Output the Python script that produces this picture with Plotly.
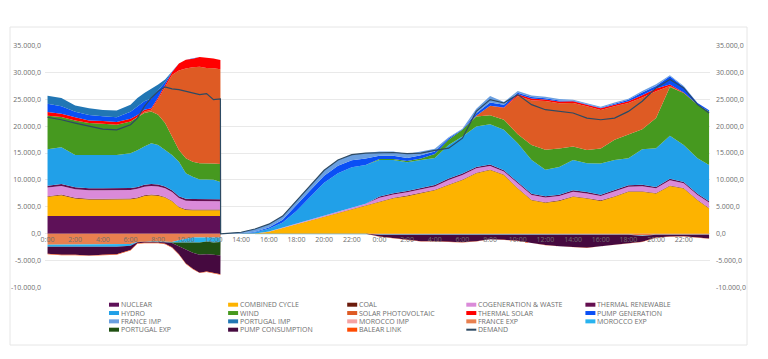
import plotly.graph_objects as go

# ---------------- time axis (day 1 morning, gap ramp, day 2) ----------------
DAY1_TIMES = ["2024-03-10 00:00", "2024-03-10 01:00", "2024-03-10 02:00", "2024-03-10 03:00",
              "2024-03-10 04:00", "2024-03-10 05:00", "2024-03-10 06:00", "2024-03-10 06:30",
              "2024-03-10 07:00", "2024-03-10 07:30", "2024-03-10 08:00", "2024-03-10 08:30",
              "2024-03-10 09:00", "2024-03-10 09:30", "2024-03-10 10:00", "2024-03-10 10:30",
              "2024-03-10 11:00", "2024-03-10 11:30", "2024-03-10 12:00", "2024-03-10 12:30"]
GAP_TIMES = ["2024-03-10 12:31", "2024-03-10 13:00", "2024-03-10 14:00", "2024-03-10 15:00",
             "2024-03-10 16:00", "2024-03-10 17:00", "2024-03-10 18:00", "2024-03-10 19:00",
             "2024-03-10 20:00", "2024-03-10 21:00", "2024-03-10 22:00", "2024-03-10 23:00"]
DAY2_TIMES = ["2024-03-11 00:00", "2024-03-11 01:00", "2024-03-11 02:00", "2024-03-11 03:00",
              "2024-03-11 04:00", "2024-03-11 05:00", "2024-03-11 06:00", "2024-03-11 07:00",
              "2024-03-11 08:00", "2024-03-11 09:00", "2024-03-11 10:00", "2024-03-11 11:00",
              "2024-03-11 12:00", "2024-03-11 13:00", "2024-03-11 14:00", "2024-03-11 15:00",
              "2024-03-11 16:00", "2024-03-11 17:00", "2024-03-11 18:00", "2024-03-11 19:00",
              "2024-03-11 20:00", "2024-03-11 21:00", "2024-03-11 22:00", "2024-03-11 23:00",
              "2024-03-11 23:50"]
TIME = DAY1_TIMES + GAP_TIMES + DAY2_TIMES

# ---------------- generation (MW), positive stack ----------------
NUCLEAR = ([3330, 3330, 3330, 3330, 3330, 3330, 3330, 3330, 3330, 3330, 3330, 3330, 3330, 3330, 3330, 3330, 3330, 3330, 3330, 3330]
           + [0, 0, 0, 0, 0, 0, 0, 0, 0, 0, 0, 0]
           + [0, 0, 0, 0, 0, 0, 0, 0, 0, 0, 0, 0, 0, 0, 0, 0, 0, 0, 0, 0, 0, 0, 0, 0, 0])
COMBINED_CYCLE = ([3550, 3850, 3250, 3050, 3050, 3050, 3100, 3300, 3700, 3850, 3750, 3400, 2700, 1600, 1100, 1050, 1050, 1050, 1050, 1050]
                  + [0, 0, 0, 50, 400, 1100, 1800, 2500, 3200, 3900, 4600, 5300]
                  + [6000, 6600, 7000, 7500, 8100, 9050, 9980, 11230, 11850, 10900, 8430, 6250, 5750, 6120, 6870, 6560, 6120, 6870, 7800, 7800, 7500, 8860, 8430, 6250, 4700])
COAL = ([120, 120, 120, 120, 120, 120, 120, 120, 120, 120, 120, 120, 120, 120, 120, 120, 120, 120, 120, 120]
        + [0, 0, 0, 0, 0, 0, 0, 0, 0, 0, 0, 0]
        + [100, 100, 100, 100, 100, 100, 100, 100, 100, 100, 100, 100, 100, 100, 100, 100, 100, 100, 100, 100, 100, 100, 100, 100, 100])
COGENERATION = ([1600, 1600, 1600, 1600, 1600, 1600, 1600, 1600, 1600, 1600, 1600, 1600, 1600, 1600, 1600, 1600, 1600, 1600, 1550, 1550]
                + [0, 0, 0, 0, 50, 100, 150, 200, 200, 250, 250, 300]
                + [600, 600, 600, 600, 600, 850, 850, 850, 650, 550, 850, 850, 900, 800, 850, 850, 800, 850, 850, 950, 850, 1000, 850, 850, 1000])
THERMAL_RENEWABLE = ([350, 350, 350, 350, 350, 350, 350, 350, 350, 350, 350, 350, 350, 350, 350, 350, 350, 350, 350, 350]
                     + [0, 0, 0, 0, 0, 0, 0, 0, 0, 0, 0, 0]
                     + [250, 250, 250, 250, 250, 250, 250, 250, 250, 250, 250, 250, 250, 250, 250, 250, 250, 250, 250, 250, 250, 250, 250, 250, 250])
HYDRO = ([6760, 6830, 6000, 6200, 6200, 6200, 6460, 6800, 7100, 7580, 7360, 6780, 6550, 6400, 4730, 4150, 3660, 3660, 3660, 3220]
         + [0, 20, 80, 250, 500, 900, 2300, 4200, 6100, 7100, 7500, 7200]
         + [6750, 6150, 5350, 5250, 5050, 6250, 6880, 7500, 7510, 7520, 7200, 6260, 4900, 5150, 5640, 5340, 5780, 5640, 5030, 6580, 7200, 8000, 6880, 6580, 6730])
WIND = ([6220, 5600, 6400, 5910, 5780, 5600, 5910, 6180, 6230, 5900, 5600, 4980, 3410, 2180, 2800, 2800, 2990, 2990, 2990, 3330]
        + [0, 0, 0, 0, 0, 0, 0, 0, 0, 0, 0, 0]
        + [200, 200, 200, 300, 700, 950, 1250, 1870, 1640, 1870, 1670, 2800, 3730, 3430, 2490, 2480, 2800, 3740, 4350, 3730, 5590, 9030, 9640, 9950, 9950])
SOLAR_PV = ([0, 0, 0, 0, 0, 0, 0, 0, 300, 300, 2890, 6740, 11440, 14720, 16670, 17500, 17900, 17700, 17700, 17600]
            + [0, 0, 0, 0, 0, 0, 0, 0, 0, 0, 0, 0]
            + [0, 0, 0, 0, 0, 0, 0, 100, 1780, 2170, 7100, 8290, 9020, 8400, 8090, 8080, 7140, 6210, 5910, 5910, 4970, 200, 0, 0, 0])
THERMAL_SOLAR = ([700, 600, 600, 500, 500, 500, 500, 400, 300, 300, 300, 300, 500, 1300, 1600, 1600, 1800, 1900, 1800, 1700]
                 + [0, 0, 0, 0, 0, 0, 0, 0, 0, 0, 0, 0]
                 + [0, 0, 0, 0, 0, 0, 0, 0, 0, 100, 300, 300, 300, 300, 300, 300, 300, 300, 300, 400, 500, 300, 100, 0, 0])
PUMP_GENERATION = ([1500, 1400, 1000, 1000, 900, 900, 1300, 1600, 1600, 1800, 1300, 600, 100, 0, 0, 0, 0, 0, 0, 0]
                   + [0, 0, 20, 100, 250, 500, 1000, 1200, 1300, 1400, 1300, 1200]
                   + [600, 600, 600, 600, 500, 300, 100, 500, 600, 500, 300, 300, 200, 200, 100, 100, 100, 200, 300, 500, 500, 1500, 1000, 300, 200])
FRANCE_IMP = ([0, 0, 0, 0, 0, 0, 0, 0, 0, 0, 0, 0, 0, 0, 0, 0, 0, 0, 0, 0]
              + [0, 80, 200, 500, 600, 700, 950, 900, 1000, 1050, 1050, 1000]
              + [800, 800, 700, 700, 500, 200, 100, 800, 1200, 500, 300, 300, 300, 300, 200, 200, 200, 200, 200, 300, 300, 200, 200, 0, 0])
PORTUGAL_IMP = ([1520, 1520, 1150, 1240, 1170, 1250, 1310, 1540, 1520, 1770, 1100, 440, 100, 0, 0, 0, 0, 0, 0, 0]
                + [0, 0, 0, 0, 0, 0, 0, 0, 0, 0, 0, 0]
                + [0, 0, 0, 0, 0, 0, 0, 0, 0, 0, 0, 0, 0, 0, 0, 0, 0, 0, 0, 0, 0, 0, 0, 0, 0])
MOROCCO_IMP = ([0, 0, 0, 0, 0, 0, 0, 0, 0, 0, 0, 0, 0, 0, 0, 0, 0, 0, 0, 0]
               + [0, 0, 0, 0, 0, 0, 0, 0, 0, 0, 0, 0]
               + [0, 0, 0, 0, 0, 0, 0, 0, 0, 0, 0, 0, 0, 0, 0, 0, 0, 0, 0, 0, 0, 0, 0, 0, 0])

# ---------------- exports / consumption (MW), negative stack ----------------
FRANCE_EXP = ([-2000, -2000, -2000, -2000, -2000, -2000, -1900, -1500, -1400, -1400, -1400, -1500, -1500, -1200, -900, -700, -700, -700, -700, -700]
              + [0, 0, 0, 0, 0, 0, 0, 0, 0, 0, 0, 0]
              + [-100, -100, -100, -100, -100, -100, -100, -100, -100, -100, -100, -100, -100, -100, -100, -100, -100, -100, -100, -300, -100, -100, -100, -100, -100])
MOROCCO_EXP = ([-400, -400, -400, -400, -400, -400, -300, -50, -50, -50, -50, -50, -100, -400, -700, -800, -900, -700, -900, -800]
               + [0, 0, 0, 0, 0, 0, 0, 0, 0, 0, 0, 0]
               + [-80, -80, -80, -80, -80, -80, -80, -80, -80, -80, -80, -80, -80, -80, -80, -80, -80, -80, -80, -80, -80, -80, -80, -80, -80])
PORTUGAL_EXP = ([0, 0, 0, 0, 0, 0, 0, 0, 0, 0, 0, 0, -100, -700, -1400, -2000, -2300, -2400, -2300, -2500]
                + [0, 0, 0, 0, 0, 0, 0, 0, 0, 0, 0, 0]
                + [0, 0, 0, 0, 0, 0, 0, 0, 0, 0, 0, 0, 0, 0, 0, 0, 0, 0, 0, 0, 0, 0, 0, 0, 0])
PUMP_CONSUMPTION = ([-1300, -1500, -1500, -1600, -1500, -1400, -800, -200, -200, -150, -200, -300, -800, -1500, -2500, -3000, -3300, -3200, -3400, -3500]
                    + [0, 0, 0, 0, 0, 0, 0, 0, 0, 0, 0, 0]
                    + [-300, -600, -900, -1200, -1200, -1300, -1400, -1200, -800, -900, -1100, -1500, -1900, -2100, -2300, -2400, -2100, -1800, -1500, -1100, -500, -300, -250, -500, -700])
BALEAR_LINK = ([-80, -80, -80, -80, -80, -80, -80, -80, -80, -80, -80, -80, -80, -80, -80, -80, -80, -80, -80, -80]
               + [0, 0, 0, 0, 0, 0, 0, 0, 0, 0, 0, 0]
               + [-40, -40, -40, -40, -40, -40, -40, -40, -40, -40, -40, -40, -40, -40, -40, -40, -40, -40, -40, -40, -40, -40, -40, -40, -40])

DEMAND = ([21640, 21180, 20560, 19930, 19440, 19310, 20250, 21490, 23660, 25220, 26460, 27280, 26900, 26780, 26460, 26270, 25840, 26030, 24910, 25040]
          + [0, 100, 300, 900, 1800, 3300, 6200, 9000, 11800, 13700, 14700, 15000]
          + [15100, 15100, 14900, 15000, 15500, 15900, 17760, 22730, 24910, 24290, 25840, 23980, 23040, 22730, 22430, 21490, 21180, 21490, 22730, 24600, 27090, 28640, 27090, 23980, 22430])

# ---------------- axis ticks ----------------
Y_TICKS = [-10000, -5000, 0, 5000, 10000, 15000, 20000, 25000, 30000, 35000]
Y_TICK_TEXT = ["-10.000,0", "-5.000,0", "0,0", "5.000,0", "10.000,0", "15.000,0",
               "20.000,0", "25.000,0", "30.000,0", "35.000,0"]
Y_RANGE = [-10050, 35050]
X_RANGE = ["2024-03-09 23:49", "2024-03-11 23:54"]

# ---------------- series styling ----------------
POSITIVE = [
    ("NUCLEAR", NUCLEAR, "#5e1158"),
    ("COMBINED CYCLE", COMBINED_CYCLE, "#fdb300"),
    ("COAL", COAL, "#6b1a0b"),
    ("COGENERATION & WASTE", COGENERATION, "#da8ad9"),
    ("THERMAL RENEWABLE", THERMAL_RENEWABLE, "#640f50"),
    ("HYDRO", HYDRO, "#21a0e8"),
    ("WIND", WIND, "#46991f"),
    ("SOLAR PHOTOVOLTAIC", SOLAR_PV, "#de5b24"),
    ("THERMAL SOLAR", THERMAL_SOLAR, "#ff0000"),
    ("PUMP GENERATION", PUMP_GENERATION, "#0a4ff5"),
    ("FRANCE IMP", FRANCE_IMP, "#6a9fe0"),
    ("PORTUGAL IMP", PORTUGAL_IMP, "#2176b4"),
    ("MOROCCO IMP", MOROCCO_IMP, "#f5a3a3"),
]
NEGATIVE = [
    ("FRANCE EXP", FRANCE_EXP, "#e8804f"),
    ("MOROCCO EXP", MOROCCO_EXP, "#29b3ef"),
    ("PORTUGAL EXP", PORTUGAL_EXP, "#1f5012"),
    ("PUMP CONSUMPTION", PUMP_CONSUMPTION, "#45093f"),
    ("BALEAR LINK", BALEAR_LINK, "#ff4a00"),
]
DEMAND_COLOR = "#2d4a63"
LEGEND_ORDER = ["NUCLEAR", "COMBINED CYCLE", "COAL", "COGENERATION & WASTE", "THERMAL RENEWABLE",
                "HYDRO", "WIND", "SOLAR PHOTOVOLTAIC", "THERMAL SOLAR", "PUMP GENERATION",
                "FRANCE IMP", "PORTUGAL IMP", "MOROCCO IMP", "FRANCE EXP", "MOROCCO EXP",
                "PORTUGAL EXP", "PUMP CONSUMPTION", "BALEAR LINK", "DEMAND"]

fig = go.Figure()
for group, series in (("pos", POSITIVE), ("neg", NEGATIVE)):
    for name, vals, color in series:
        assert len(vals) == len(TIME), name
        fig.add_trace(go.Scatter(x=TIME, y=vals, name=name, stackgroup=group, mode="lines",
                                 line=dict(width=0, color=color), fillcolor=color,
                                 showlegend=False, hoverinfo="skip"))
assert len(DEMAND) == len(TIME)
fig.add_trace(go.Scatter(x=TIME, y=DEMAND, name="DEMAND", mode="lines", yaxis="y2",
                         line=dict(color=DEMAND_COLOR, width=1.2), showlegend=False))

# ---------------- layout ----------------
# the page body adds an 8px offset; figure sized so it fits the 768x359 window
OFF = 8
W, H = 760, 351
ML, MT = 45 - OFF, 45 - OFF
MR, MB = W - (710 - OFF), H - (288 - OFF)
PW, PH = W - ML - MR, H - MT - MB


def px_x(v):
    return (v - OFF - ML) / PW


def px_y(v):
    return (MT + PH - (v - OFF)) / PH


zero_frac = (0 - Y_RANGE[0]) / (Y_RANGE[1] - Y_RANGE[0])
GRAY = "#6e6e6e"

fig.update_layout(
    width=W, height=H, margin=dict(l=ML, r=MR, t=MT, b=MB, autoexpand=False),
    paper_bgcolor="white", plot_bgcolor="white", showlegend=False,
    font=dict(family="Open Sans, sans-serif", size=7, color=GRAY),
    xaxis=dict(type="date", range=X_RANGE, tickformat="%-H:%M", dtick=7200000,
               tick0="2024-03-10 00:00", showgrid=False, zeroline=False, showline=False,
               anchor="free", position=zero_frac, ticks="", automargin=False,
               tickfont=dict(size=7, color=GRAY)),
    yaxis=dict(range=Y_RANGE, tickvals=Y_TICKS, ticktext=Y_TICK_TEXT, showgrid=True,
               gridcolor="#e9e9e9", gridwidth=1, zeroline=False, ticks="", automargin=False,
               ticklabelstandoff=3, tickfont=dict(size=7, color=GRAY)),
    yaxis2=dict(range=Y_RANGE, overlaying="y", side="right", tickvals=Y_TICKS,
                ticktext=Y_TICK_TEXT, showgrid=False, zeroline=False, ticks="",
                automargin=False, ticklabelstandoff=5, tickfont=dict(size=7, color=GRAY)),
)

# card border
shapes = [dict(type="rect", xref="paper", yref="paper", x0=px_x(10), x1=px_x(747),
               y0=px_y(345), y1=px_y(27), line=dict(color="#e6e6e6", width=1), layer="below")]
annotations = []
colors = {n: c for n, _, c in POSITIVE + NEGATIVE}
for i, name in enumerate(LEGEND_ORDER):
    col, row = i % 5, i // 5
    sx = 109 + col * 119.1
    sy = 304.7 + row * 8.33
    if name == "DEMAND":
        shapes.append(dict(type="line", xref="paper", yref="paper", x0=px_x(sx), x1=px_x(sx + 10),
                           y0=px_y(sy), y1=px_y(sy), line=dict(color=DEMAND_COLOR, width=2)))
    else:
        shapes.append(dict(type="rect", xref="paper", yref="paper", x0=px_x(sx), x1=px_x(sx + 10),
                           y0=px_y(sy + 2), y1=px_y(sy - 2), line=dict(width=0),
                           fillcolor=colors[name]))
    annotations.append(dict(xref="paper", yref="paper", x=px_x(sx + 10), y=px_y(sy),
                            text=name, showarrow=False, xanchor="left", yanchor="middle",
                            font=dict(size=7, color=GRAY)))
fig.update_layout(shapes=shapes, annotations=annotations)

fig.write_html("out.html")
